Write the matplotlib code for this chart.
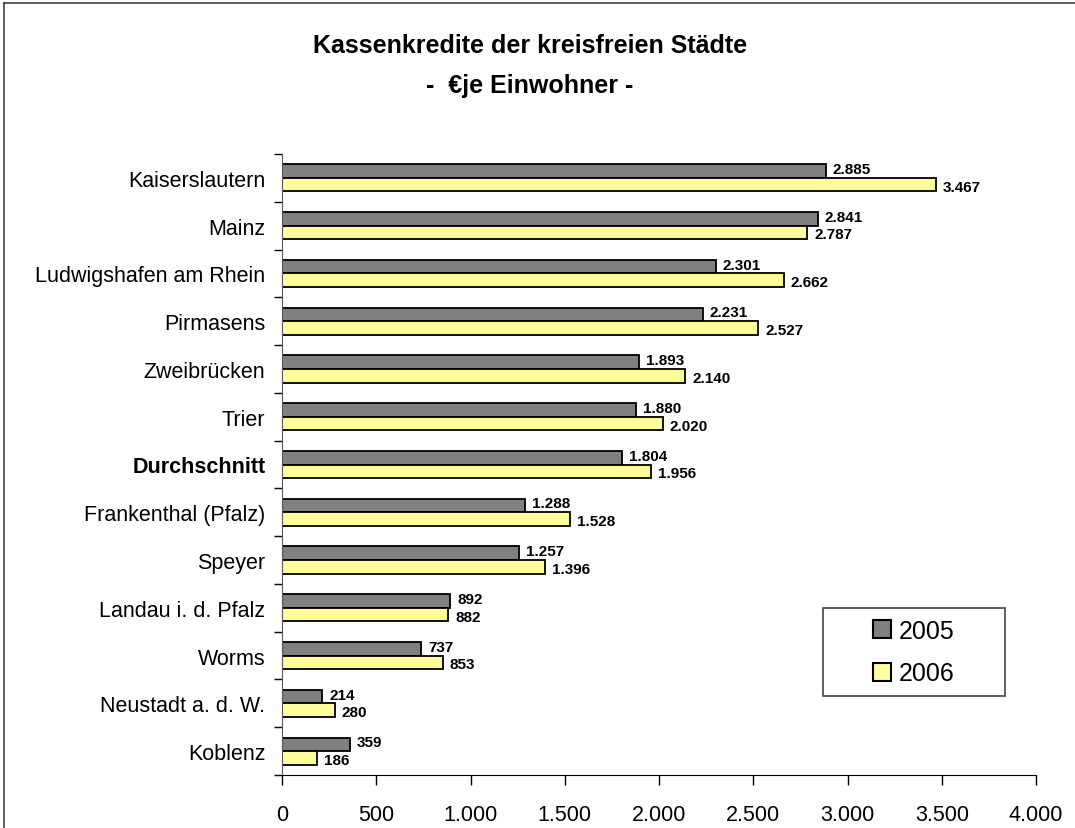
import matplotlib
matplotlib.use("Agg")
import matplotlib.pyplot as plt
from matplotlib.patches import Rectangle, Patch
from matplotlib.lines import Line2D
from matplotlib.ticker import FuncFormatter

plt.rcParams['font.family'] = ['Liberation Sans', 'DejaVu Sans']

cities = ["Kaiserslautern", "Mainz", "Ludwigshafen am Rhein", "Pirmasens",
          "Zweibrücken", "Trier", "Durchschnitt", "Frankenthal (Pfalz)",
          "Speyer", "Landau i. d. Pfalz", "Worms", "Neustadt a. d. W.", "Koblenz"]
v2005 = [2885, 2841, 2301, 2231, 1893, 1880, 1804, 1288, 1257, 892, 737, 214, 359]
v2006 = [3467, 2787, 2662, 2527, 2140, 2020, 1956, 1528, 1396, 882, 853, 280, 186]
series_names = ["2005", "2006"]
xticks = [0, 500, 1000, 1500, 2000, 2500, 3000, 3500, 4000]
title = "Kassenkredite der kreisfreien Städte\n-  €je Einwohner -"

W, H = 1075, 829
fig = plt.figure(figsize=(W / 100, H / 100), dpi=100)
ax = fig.add_axes([282 / W, 1 - 776 / H, (1036 - 282) / W, (776 - 155) / H])

def fmt(v):
    return f"{v:,.0f}".replace(",", ".")

h = 0.285
c05, c06 = "#808080", "#FFFF99"
n = len(cities)
ypos = list(range(n))
ax.barh([y - h / 2 for y in ypos], v2005, height=h, color=c05, edgecolor="black", linewidth=1.3, label=series_names[0])
ax.barh([y + h / 2 for y in ypos], v2006, height=h, color=c06, edgecolor="black", linewidth=1.3, label=series_names[1])

for y, a, b in zip(ypos, v2005, v2006):
    ax.annotate(fmt(a), (a, y - h / 2), xytext=(7, 2), textcoords="offset pixels",
                ha="left", va="center", fontsize=11, fontweight="bold")
    ax.annotate(fmt(b), (b, y + h / 2), xytext=(7, -2), textcoords="offset pixels",
                ha="left", va="center", fontsize=11, fontweight="bold")

ax.set_xlim(0, 4000)
ax.set_ylim(n - 0.5, -0.5)
ax.set_xticks(xticks)
ax.xaxis.set_major_formatter(FuncFormatter(lambda v, p: fmt(v)))
ax.tick_params(axis="x", length=7, width=1, pad=14, labelsize=15.5, direction="out")
ax.set_yticks(ypos)
ax.set_yticklabels(cities)
ax.set_yticks([i - 0.5 for i in range(n + 1)], minor=True)
ax.tick_params(axis="y", which="major", length=0, pad=12, labelsize=15.5)
ax.tick_params(axis="y", which="minor", length=6, width=1, direction="out")
for lbl in ax.get_yticklabels():
    if lbl.get_text() == "Durchschnitt":
        lbl.set_fontweight("bold")

for s in ["top", "right"]:
    ax.spines[s].set_visible(False)
ax.spines["left"].set_color("#555555")
ax.spines["bottom"].set_color("black")

# legend box
lx0, lx1, ly0, ly1 = 823, 1005, 609, 697
ax.add_patch(Rectangle(((lx0 - 282) / 754, (776 - ly1) / 621), (lx1 - lx0) / 754, (ly1 - ly0) / 621,
                       transform=ax.transAxes, facecolor="white", edgecolor="#444444",
                       linewidth=1.2, zorder=5))
handles = [Patch(facecolor=c05, edgecolor="black", linewidth=1.5),
           Patch(facecolor=c06, edgecolor="black", linewidth=1.5)]
leg = ax.legend(handles, series_names, loc="center",
                bbox_to_anchor=(((lx0 + lx1) / 2 - 282) / 754, (776 - (ly0 + ly1) / 2) / 621),
                frameon=False, fontsize=18, handlelength=0.72, handleheight=0.72,
                handletextpad=0.3, labelspacing=0.75, borderpad=0)
leg.set_zorder(6)

fig.text(530 / W, 1 - 66 / H, title, ha="center", va="center", fontsize=18,
         fontweight="bold", linespacing=1.85)

fig.add_artist(Line2D([3.5 / W, 3.5 / W], [0, 1 - 3.5 / H], transform=fig.transFigure,
                      color="#333333", linewidth=1.1))
fig.add_artist(Line2D([3.5 / W, 1], [1 - 3.5 / H, 1 - 3.5 / H], transform=fig.transFigure,
                      color="#333333", linewidth=1.1))

fig.savefig("out.png", dpi=100)
